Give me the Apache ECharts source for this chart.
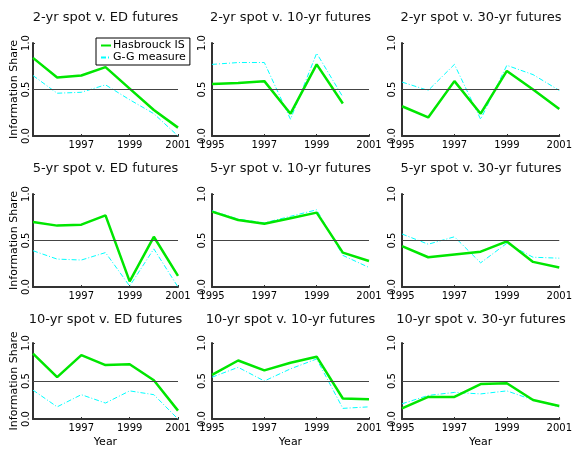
<!DOCTYPE html>
<html>
<head>
<meta charset="utf-8">
<script src="https://cdn.jsdelivr.net/npm/echarts@6/dist/echarts.min.js"></script>
<style>
    html, body { margin: 0; padding: 0; background: #fff; }
    #main { width: 575px; height: 449px; }
</style>
</head>
<body>
<div id="main"></div>
<script>
var years = [1995, 1996, 1997, 1998, 1999, 2000, 2001];

var titles = [
    '2-yr spot v. ED futures', '2-yr spot v. 10-yr futures', '2-yr spot v. 30-yr futures',
    '5-yr spot v. ED futures', '5-yr spot v. 10-yr futures', '5-yr spot v. 30-yr futures',
    '10-yr spot v. ED futures', '10-yr spot v. 10-yr futures', '10-yr spot v. 30-yr futures'
];

// Hasbrouck IS
var has2ED = [0.84, 0.63, 0.65, 0.74, 0.51, 0.28, 0.09];
var has2_10 = [0.56, 0.57, 0.59, 0.24, 0.77, 0.35, null];
var has2_30 = [0.32, 0.20, 0.59, 0.24, 0.70, 0.50, 0.29];
var has5ED = [0.70, 0.66, 0.67, 0.77, 0.06, 0.54, 0.12];
var has5_10 = [0.81, 0.72, 0.68, 0.74, 0.80, 0.37, 0.28];
var has5_30 = [0.44, 0.32, 0.35, 0.38, 0.49, 0.27, 0.21];
var has10ED = [0.86, 0.55, 0.84, 0.71, 0.72, 0.51, 0.11];
var has10_10 = [0.58, 0.77, 0.64, 0.74, 0.82, 0.27, 0.26];
var has10_30 = [0.14, 0.29, 0.29, 0.46, 0.47, 0.25, 0.17];

// G-G measure
var gg2ED = [0.65, 0.46, 0.47, 0.55, 0.39, 0.24, 0.00];
var gg2_10 = [0.77, 0.79, 0.79, 0.18, 0.89, 0.42, null];
var gg2_30 = [0.58, 0.49, 0.77, 0.18, 0.76, 0.66, 0.49];
var gg5ED = [0.39, 0.30, 0.29, 0.37, 0.01, 0.41, 0.00];
var gg5_10 = [0.82, 0.73, 0.69, 0.76, 0.83, 0.34, 0.21];
var gg5_30 = [0.57, 0.46, 0.54, 0.26, 0.47, 0.32, 0.31];
var gg10ED = [0.38, 0.16, 0.32, 0.21, 0.37, 0.32, 0.00];
var gg10_10 = [0.55, 0.68, 0.50, 0.66, 0.79, 0.14, 0.16];
var gg10_30 = [0.20, 0.31, 0.35, 0.33, 0.37, 0.25, 0.16];

var hasList = [has2ED, has2_10, has2_30, has5ED, has5_10, has5_30, has10ED, has10_10, has10_30];
var ggList = [gg2ED, gg2_10, gg2_30, gg5ED, gg5_10, gg5_30, gg10ED, gg10_10, gg10_30];

var colLeft = [33, 212, 402];
var colWidth = [145, 157, 158];
var rowTop = [43, 194, 343];
var rowHeight = [93, 93, 82];
var titleTop = [11, 162, 313];

var font = 'DejaVu Sans';
var axisColor = '#333';

function pairs(arr) {
    var out = [];
    for (var i = 0; i < years.length; i++) {
        out.push([years[i], arr[i]]);
    }
    return out;
}

var option = {
    animation: false,
    backgroundColor: '#fff',
    title: [],
    grid: [],
    xAxis: [],
    yAxis: [],
    legend: {
        data: ['Hasbrouck IS', 'G-G measure'],
        orient: 'vertical',
        left: 96,
        top: 38,
        itemWidth: 10,
        itemHeight: 8,
        itemGap: 1,
        padding: [2, 4, 2, 4],
        borderColor: '#000',
        borderWidth: 1,
        borderRadius: 0,
        itemStyle: { color: 'rgba(0,0,0,0)', borderWidth: 0, opacity: 0 },
        textStyle: { fontFamily: font, fontSize: 11, color: '#000', padding: [0, 0, 0, -3] }
    },
    series: []
};

for (var p = 0; p < 9; p++) {
    var r = Math.floor(p / 3);
    var c = p % 3;
    option.title.push({
        text: titles[p],
        left: colLeft[c] + colWidth[c] / 2,
        top: titleTop[r],
        textAlign: 'center',
        padding: 0,
        textStyle: { fontFamily: font, fontSize: 13, fontWeight: 'normal', color: '#111' }
    });
    option.grid.push({
        left: colLeft[c],
        top: rowTop[r],
        width: colWidth[c],
        height: rowHeight[r]
    });
    option.xAxis.push({
        type: 'value',
        gridIndex: p,
        min: 1995,
        max: 2001,
        interval: 2,
        name: r === 2 ? 'Year' : '',
        nameLocation: 'middle',
        nameGap: 18,
        nameTextStyle: { fontFamily: font, fontSize: 11, color: '#000' },
        axisLine: { lineStyle: { color: axisColor, width: 2 } },
        axisTick: { inside: true, length: 2, lineStyle: { color: axisColor } },
        axisLabel: {
            fontFamily: font, fontSize: 10, color: '#000', margin: 4,
            showMinLabel: c !== 0,
            formatter: function (v) { return String(v); }
        },
        splitLine: { show: false }
    });
    option.yAxis.push({
        type: 'value',
        gridIndex: p,
        min: 0,
        max: 1,
        interval: 0.5,
        name: c === 0 ? 'Information Share' : '',
        nameLocation: 'middle',
        nameRotate: 90,
        nameGap: 13,
        nameTextStyle: { fontFamily: font, fontSize: 11, color: '#000' },
        axisLine: { show: true, lineStyle: { color: axisColor, width: 2 } },
        axisTick: { inside: true, length: 2, lineStyle: { color: axisColor } },
        axisLabel: {
            fontFamily: font, fontSize: 10, color: '#000',
            rotate: 90,
            margin: c === 0 ? 2 : 5,
            formatter: function (v) { return v.toFixed(1); }
        },
        splitLine: { show: false }
    });
    option.series.push({
        name: 'G-G measure',
        type: 'line',
        xAxisIndex: p,
        yAxisIndex: p,
        data: pairs(ggList[p]),
        symbol: 'none',
        connectNulls: false,
        lineStyle: { color: '#00ffff', width: 1, type: [5, 2, 1, 2] },
        itemStyle: { color: '#00ffff' }
    });
    option.series.push({
        name: 'Hasbrouck IS',
        type: 'line',
        xAxisIndex: p,
        yAxisIndex: p,
        data: pairs(hasList[p]),
        symbol: 'none',
        lineStyle: { color: '#00e600', width: 2.5 },
        itemStyle: { color: '#00e600' },
        markLine: {
            silent: true,
            symbol: 'none',
            label: { show: false },
            lineStyle: { color: '#444', width: 1, type: 'solid' },
            data: [{ yAxis: 0.5 }]
        }
    });
}

var chart = echarts.init(document.getElementById('main'), null, { renderer: 'canvas' });
chart.setOption(option);
</script>
</body>
</html>
